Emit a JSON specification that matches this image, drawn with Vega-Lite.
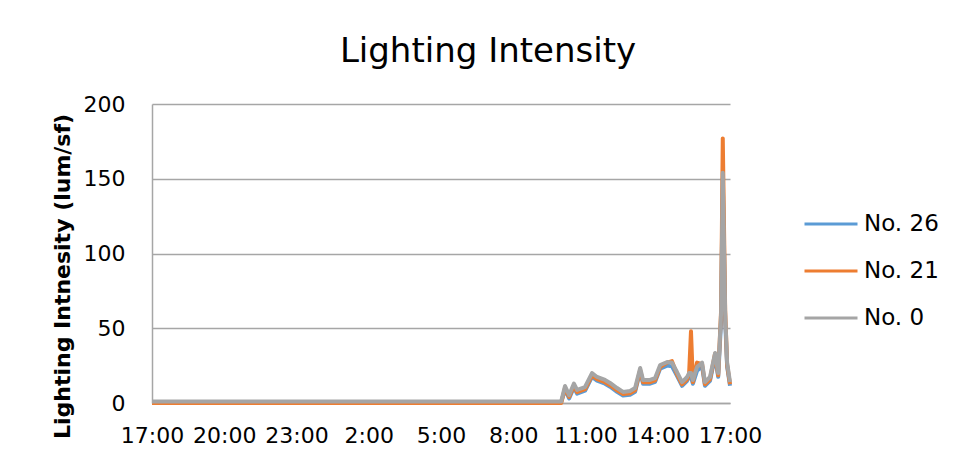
{
  "$schema": "https://vega.github.io/schema/vega-lite/v6.json",
  "width": 578,
  "height": 299,
  "autosize": {"type": "none"},
  "padding": {"left": 152, "top": 104, "right": 226, "bottom": 65},
  "background": "white",
  "title": {
    "text": "Lighting Intensity",
    "font": "DejaVu Sans",
    "fontSize": 34,
    "fontWeight": "normal",
    "color": "#000000",
    "anchor": "middle",
    "frame": "group",
    "dx": 47,
    "dy": 33,
    "baseline": "alphabetic",
    "offset": 30
  },
  "datasets": {
    "lux": [
      {"t": 0, "s": "No. 26", "v": 0.5}, {"t": 0, "s": "No. 21", "v": 0}, {"t": 0, "s": "No. 0", "v": 1},
      {"t": 3, "s": "No. 26", "v": 0.5}, {"t": 3, "s": "No. 21", "v": 0}, {"t": 3, "s": "No. 0", "v": 1},
      {"t": 6, "s": "No. 26", "v": 0.5}, {"t": 6, "s": "No. 21", "v": 0}, {"t": 6, "s": "No. 0", "v": 1},
      {"t": 9, "s": "No. 26", "v": 0.5}, {"t": 9, "s": "No. 21", "v": 0}, {"t": 9, "s": "No. 0", "v": 1},
      {"t": 12, "s": "No. 26", "v": 0.5}, {"t": 12, "s": "No. 21", "v": 0}, {"t": 12, "s": "No. 0", "v": 1},
      {"t": 15, "s": "No. 26", "v": 0.5}, {"t": 15, "s": "No. 21", "v": 0}, {"t": 15, "s": "No. 0", "v": 1},
      {"t": 16.99, "s": "No. 26", "v": 0.5}, {"t": 16.99, "s": "No. 21", "v": 0}, {"t": 16.99, "s": "No. 0", "v": 1},
      {"t": 17.15, "s": "No. 26", "v": 9}, {"t": 17.15, "s": "No. 21", "v": 10}, {"t": 17.15, "s": "No. 0", "v": 11.4},
      {"t": 17.32, "s": "No. 26", "v": 3}, {"t": 17.32, "s": "No. 21", "v": 4}, {"t": 17.32, "s": "No. 0", "v": 5.3},
      {"t": 17.52, "s": "No. 26", "v": 10.5}, {"t": 17.52, "s": "No. 21", "v": 11.5}, {"t": 17.52, "s": "No. 0", "v": 13},
      {"t": 17.65, "s": "No. 26", "v": 6.2}, {"t": 17.65, "s": "No. 21", "v": 7.2}, {"t": 17.65, "s": "No. 0", "v": 8.7},
      {"t": 17.98, "s": "No. 26", "v": 8.2}, {"t": 17.98, "s": "No. 21", "v": 9.2}, {"t": 17.98, "s": "No. 0", "v": 10.7},
      {"t": 18.27, "s": "No. 26", "v": 17.5}, {"t": 18.27, "s": "No. 21", "v": 18.5}, {"t": 18.27, "s": "No. 0", "v": 20},
      {"t": 18.48, "s": "No. 26", "v": 14.9}, {"t": 18.48, "s": "No. 21", "v": 15.9}, {"t": 18.48, "s": "No. 0", "v": 17.4},
      {"t": 18.81, "s": "No. 26", "v": 12.9}, {"t": 18.81, "s": "No. 21", "v": 13.9}, {"t": 18.81, "s": "No. 0", "v": 15.4},
      {"t": 19.02, "s": "No. 26", "v": 10.9}, {"t": 19.02, "s": "No. 21", "v": 11.9}, {"t": 19.02, "s": "No. 0", "v": 13.4},
      {"t": 19.31, "s": "No. 26", "v": 7.5}, {"t": 19.31, "s": "No. 21", "v": 8.5}, {"t": 19.31, "s": "No. 0", "v": 10},
      {"t": 19.56, "s": "No. 26", "v": 5}, {"t": 19.56, "s": "No. 21", "v": 6}, {"t": 19.56, "s": "No. 0", "v": 7.4},
      {"t": 19.85, "s": "No. 26", "v": 5.5}, {"t": 19.85, "s": "No. 21", "v": 6.5}, {"t": 19.85, "s": "No. 0", "v": 8},
      {"t": 20.06, "s": "No. 26", "v": 7.5}, {"t": 20.06, "s": "No. 21", "v": 8.5}, {"t": 20.06, "s": "No. 0", "v": 10},
      {"t": 20.27, "s": "No. 26", "v": 21}, {"t": 20.27, "s": "No. 21", "v": 22}, {"t": 20.27, "s": "No. 0", "v": 23.4},
      {"t": 20.39, "s": "No. 26", "v": 12.9}, {"t": 20.39, "s": "No. 21", "v": 13.9}, {"t": 20.39, "s": "No. 0", "v": 15.4},
      {"t": 20.68, "s": "No. 26", "v": 12.9}, {"t": 20.68, "s": "No. 21", "v": 13.9}, {"t": 20.68, "s": "No. 0", "v": 15.4},
      {"t": 20.89, "s": "No. 26", "v": 14.2}, {"t": 20.89, "s": "No. 21", "v": 15.2}, {"t": 20.89, "s": "No. 0", "v": 16.7},
      {"t": 21.1, "s": "No. 26", "v": 23}, {"t": 21.1, "s": "No. 21", "v": 24}, {"t": 21.1, "s": "No. 0", "v": 25.4},
      {"t": 21.39, "s": "No. 26", "v": 25}, {"t": 21.39, "s": "No. 21", "v": 27}, {"t": 21.39, "s": "No. 0", "v": 27.4},
      {"t": 21.59, "s": "No. 26", "v": 24.5}, {"t": 21.59, "s": "No. 21", "v": 28}, {"t": 21.59, "s": "No. 0", "v": 27},
      {"t": 21.8, "s": "No. 26", "v": 18.2}, {"t": 21.8, "s": "No. 21", "v": 19.2}, {"t": 21.8, "s": "No. 0", "v": 20.7},
      {"t": 22.01, "s": "No. 26", "v": 11.5}, {"t": 22.01, "s": "No. 21", "v": 12.5}, {"t": 22.01, "s": "No. 0", "v": 14},
      {"t": 22.22, "s": "No. 26", "v": 14.9}, {"t": 22.22, "s": "No. 21", "v": 15.9}, {"t": 22.22, "s": "No. 0", "v": 17.4},
      {"t": 22.3, "s": "No. 26", "v": 17.5}, {"t": 22.3, "s": "No. 21", "v": 19}, {"t": 22.3, "s": "No. 0", "v": 20},
      {"t": 22.38, "s": "No. 26", "v": 17.5}, {"t": 22.38, "s": "No. 21", "v": 48}, {"t": 22.38, "s": "No. 0", "v": 20},
      {"t": 22.46, "s": "No. 26", "v": 12.9}, {"t": 22.46, "s": "No. 21", "v": 14}, {"t": 22.46, "s": "No. 0", "v": 15.4},
      {"t": 22.63, "s": "No. 26", "v": 21.5}, {"t": 22.63, "s": "No. 21", "v": 27}, {"t": 22.63, "s": "No. 0", "v": 24},
      {"t": 22.84, "s": "No. 26", "v": 24.5}, {"t": 22.84, "s": "No. 21", "v": 26}, {"t": 22.84, "s": "No. 0", "v": 27},
      {"t": 22.96, "s": "No. 26", "v": 11.5}, {"t": 22.96, "s": "No. 21", "v": 12.5}, {"t": 22.96, "s": "No. 0", "v": 14},
      {"t": 23.17, "s": "No. 26", "v": 14.9}, {"t": 23.17, "s": "No. 21", "v": 15.9}, {"t": 23.17, "s": "No. 0", "v": 17.4},
      {"t": 23.38, "s": "No. 26", "v": 31}, {"t": 23.38, "s": "No. 21", "v": 33}, {"t": 23.38, "s": "No. 0", "v": 33.4},
      {"t": 23.51, "s": "No. 26", "v": 17.5}, {"t": 23.51, "s": "No. 21", "v": 18.5}, {"t": 23.51, "s": "No. 0", "v": 20},
      {"t": 23.63, "s": "No. 26", "v": 55}, {"t": 23.63, "s": "No. 21", "v": 62}, {"t": 23.63, "s": "No. 0", "v": 60},
      {"t": 23.7, "s": "No. 26", "v": 150}, {"t": 23.7, "s": "No. 21", "v": 177}, {"t": 23.7, "s": "No. 0", "v": 154},
      {"t": 23.8, "s": "No. 26", "v": 55}, {"t": 23.8, "s": "No. 21", "v": 62}, {"t": 23.8, "s": "No. 0", "v": 60},
      {"t": 23.88, "s": "No. 26", "v": 24.5}, {"t": 23.88, "s": "No. 21", "v": 25.5}, {"t": 23.88, "s": "No. 0", "v": 27},
      {"t": 24, "s": "No. 26", "v": 11.5}, {"t": 24, "s": "No. 21", "v": 12.5}, {"t": 24, "s": "No. 0", "v": 14}
    ]
  },
  "data": {"name": "lux"},
  "encoding": {
    "x": {
      "field": "t",
      "type": "quantitative",
      "scale": {"domain": [0, 24], "nice": false, "zero": false},
      "axis": {
        "title": null,
        "values": [0, 3, 6, 9, 12, 15, 18, 21, 24],
        "labelExpr": "((datum.value + 17) % 24) + ':00'",
        "grid": false,
        "ticks": false,
        "labelFlush": false,
        "labelOverlap": false,
        "labelBound": false,
        "labelFont": "DejaVu Sans",
        "labelFontSize": 22,
        "labelColor": "#000000",
        "labelPadding": 22,
        "domainColor": "#a6a6a6",
        "domainWidth": 1.5
      }
    },
    "y": {
      "field": "v",
      "type": "quantitative",
      "scale": {"domain": [0, 200], "nice": false},
      "axis": {
        "title": "Lighting Intnesity (lum/sf)",
        "values": [0, 50, 100, 150, 200],
        "grid": true,
        "gridColor": "#a6a6a6",
        "gridWidth": 1.5,
        "ticks": false,
        "labelFont": "DejaVu Sans",
        "labelFontSize": 22,
        "labelColor": "#000000",
        "labelPadding": 27,
        "domainColor": "#a6a6a6",
        "domainWidth": 1.5,
        "titleFont": "DejaVu Sans",
        "titleFontSize": 22,
        "titleFontWeight": "bold",
        "titleColor": "#000000",
        "titleAngle": -90,
        "titleAlign": "center",
        "titleBaseline": "middle",
        "titleX": -90,
        "titleY": 172
      }
    },
    "color": {
      "field": "s",
      "type": "nominal",
      "scale": {"domain": ["No. 26", "No. 21", "No. 0"], "range": ["#5B9BD5", "#ED7D31", "#A5A5A5"]},
      "legend": {
        "title": null,
        "orient": "none",
        "legendX": 651,
        "legendY": 92,
        "padding": 0,
        "symbolType": "stroke",
        "symbolSize": 2809,
        "symbolStrokeWidth": 3,
        "labelFont": "DejaVu Sans",
        "labelFontSize": 23,
        "labelColor": "#000000",
        "labelOffset": 5,
        "rowPadding": 7
      }
    }
  },
  "layer": [
    {"transform": [{"filter": "datum.s === 'No. 26'"}], "mark": {"type": "line", "strokeWidth": 4, "strokeJoin": "round"}},
    {"transform": [{"filter": "datum.s === 'No. 21'"}], "mark": {"type": "line", "strokeWidth": 4, "strokeJoin": "round"}},
    {"transform": [{"filter": "datum.s === 'No. 0'"}], "mark": {"type": "line", "strokeWidth": 4, "strokeJoin": "round"}}
  ],
  "config": {"view": {"stroke": null}}
}
